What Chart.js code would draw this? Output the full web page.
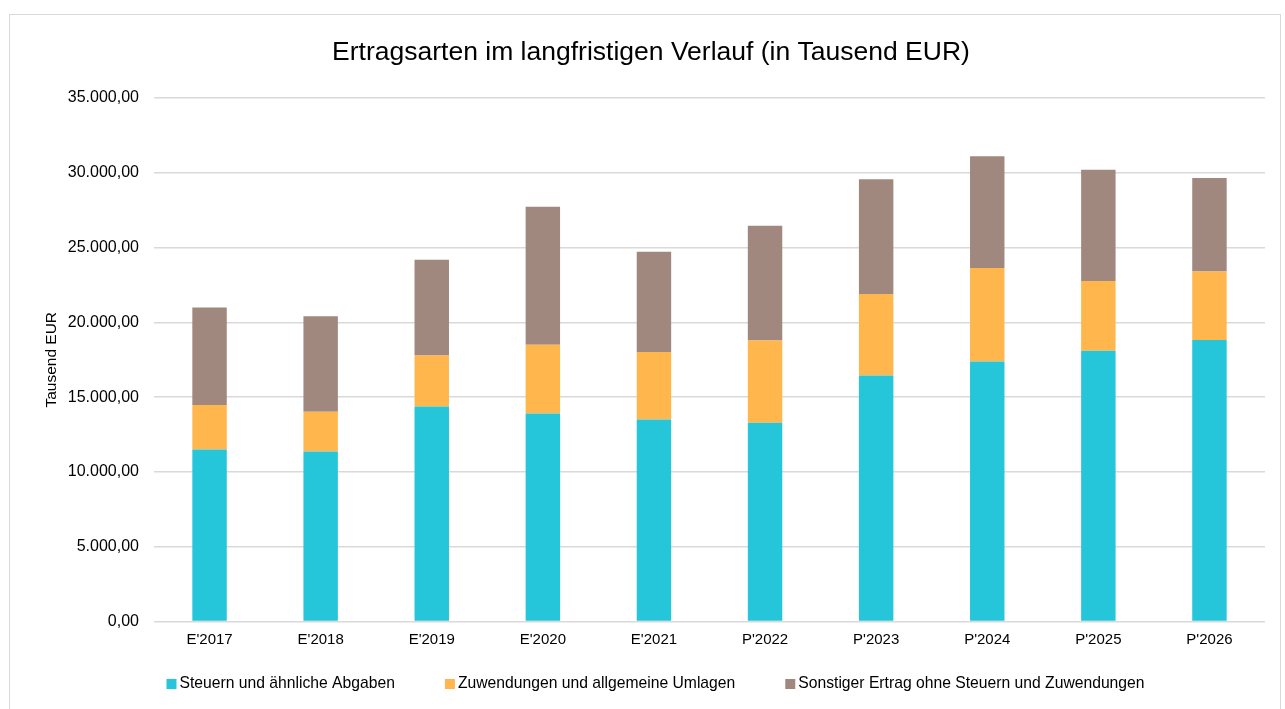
<!DOCTYPE html>
<html>
<head>
<meta charset="utf-8">
<script src="https://cdn.jsdelivr.net/npm/chart.js@4/dist/chart.umd.min.js"></script>
<style>
  html, body { margin: 0; padding: 0; background: #fff; overflow: hidden; }
  #wrap { position: absolute; left: 0; top: 0; width: 1285px; height: 709px; }
  #frame { position: absolute; left: 9px; top: 14px; width: 1272px; height: 720px; border: 1px solid #d9d9d9; box-sizing: border-box; pointer-events: none; }
</style>
</head>
<body>
<div id="wrap"><canvas id="c" width="1285" height="709"></canvas></div>
<div id="frame"></div>
<script>
const categories = ["E'2017", "E'2018", "E'2019", "E'2020", "E'2021", "P'2022", "P'2023", "P'2024", "P'2025", "P'2026"];
const steuern     = [11500, 11370, 14380, 13910, 13510, 13290, 16450, 17390, 18100, 18820];
const zuwendungen = [2970, 2650, 3410, 4590, 4505, 5500, 5440, 6240, 4660, 4585];
const sonstige    = [6530, 6380, 6400, 9230, 6700, 7670, 7670, 7470, 7450, 6245];
const seriesNames = ["Steuern und ähnliche Abgaben", "Zuwendungen und allgemeine Umlagen", "Sonstiger Ertrag ohne Steuern und Zuwendungen"];
const titleText = "Ertragsarten im langfristigen Verlauf (in Tausend EUR)";
const yTitle = "Tausend EUR";

const FONT = "'Liberation Sans', Arial, Helvetica, sans-serif";
const colors = ["#26C6DA", "#FFB74D", "#A1887F"];

function fmtDE(v) {
  const neg = v < 0;
  v = Math.abs(v);
  const parts = v.toFixed(2).split('.');
  const intPart = parts[0].replace(/\B(?=(\d{3})+(?!\d))/g, '.');
  return (neg ? '-' : '') + intPart + ',' + parts[1];
}

const legendPlugin = {
  id: 'customLegend',
  afterDraw(chart) {
    const ctx = chart.ctx;
    ctx.save();
    ctx.font = '15.7px ' + FONT;
    ctx.textBaseline = 'middle';
    ctx.textAlign = 'left';
    const box = 10, gapText = 3, gapItem = 50;
    const items = chart.data.datasets.map(ds => ({ label: ds.label, color: ds.backgroundColor, w: box + gapText + ctx.measureText(ds.label).width }));
    const total = items.reduce((s, it) => s + it.w, 0) + gapItem * (items.length - 1);
    let x = 655.5 - total / 2;
    const yc = 684;
    items.forEach(it => {
      ctx.fillStyle = it.color;
      ctx.fillRect(x, yc - box / 2, box, box);
      ctx.fillStyle = '#000';
      ctx.fillText(it.label, x + box + gapText, yc);
      x += it.w + gapItem;
    });
    ctx.restore();
  }
};

new Chart(document.getElementById('c'), {
  type: 'bar',
  data: {
    labels: categories,
    datasets: [
      { label: seriesNames[0], data: steuern, backgroundColor: colors[0] },
      { label: seriesNames[1], data: zuwendungen, backgroundColor: colors[1] },
      { label: seriesNames[2], data: sonstige, backgroundColor: colors[2] }
    ]
  },
  options: {
    responsive: false,
    animation: false,
    devicePixelRatio: 1,
    layout: { padding: { left: 37, right: 20, top: 14, bottom: 47.5 } },
    datasets: { bar: { categoryPercentage: 1, barPercentage: 0.31 } },
    plugins: {
      legend: { display: false },
      tooltip: { enabled: false },
      title: {
        display: true,
        text: titleText,
        color: '#000',
        font: { family: FONT, size: 26.5, weight: 'normal', lineHeight: 1.2 },
        padding: { top: 22.3, bottom: 29.9 }
      }
    },
    scales: {
      x: {
        stacked: true,
        grid: { display: false, drawTicks: false },
        border: { display: false },
        ticks: { color: '#000', font: { family: FONT, size: 15 }, padding: 9, maxRotation: 0, autoSkip: false },
        afterFit(s) { s.height = 40; }
      },
      y: {
        stacked: true,
        min: 0,
        max: 35000,
        grid: { color: '#d9d9d9', lineWidth: 1.5, drawTicks: false },
        border: { display: false },
        ticks: { stepSize: 5000, color: '#000', font: { family: FONT, size: 16 }, padding: 15, callback: v => fmtDE(v) },
        title: { display: true, text: yTitle, color: '#000', font: { family: FONT, size: 15.5, lineHeight: 1.2 }, padding: { top: 5.7, bottom: 0 } },
        afterFit(s) { s.width = 117; }
      }
    }
  },
  plugins: [legendPlugin]
});
</script>
</body>
</html>
